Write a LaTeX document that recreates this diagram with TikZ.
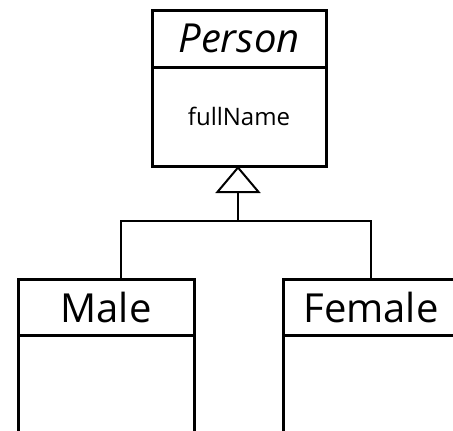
\documentclass[tikz,border=0pt]{standalone}
\usepackage{fontspec}
\setmainfont{Open Sans}
\usetikzlibrary{arrows.meta}

\begin{document}
\begin{tikzpicture}[
		x=1pt, y=-1pt,
		head/.style = {draw, line width=3pt, outer sep=0pt, minimum width=174pt, minimum height=57pt, inner sep=0pt, font=\fontsize{40}{44}\selectfont},
		body/.style = {draw, line width=3pt, outer sep=0pt, minimum width=174pt, inner sep=0pt, font=\fontsize{24}{28}\selectfont},
		link/.style = {line width=2pt}
	]
	\useasboundingbox (0,0) rectangle (453,431);
	\clip (0,0) rectangle (453,431);
	% Person
	\node[head] (person) at (239,38.5) {\itshape Person};
	\node[body, minimum height=99pt] (attrs) at (239,116.5) {fullName};
	% subclasses
	\node[head, minimum width=176pt, minimum height=56pt] (male) at (106,307) {Male};
	\node[body, minimum width=176pt, minimum height=100pt, anchor=north] (maleb) at (male.south) {};
	\node[head, minimum width=176pt, minimum height=56pt] (female) at (371,307) {Female};
	\node[body, minimum width=176pt, minimum height=100pt, anchor=north] (femaleb) at (female.south) {};
	\coordinate (join) at (238,221);
	\coordinate (maletop) at (121,279);
	\draw[link] (maletop) |- (join) -| (female.north);
	\draw[link, -{Triangle[open, length=27pt, width=45pt, line width=2pt]}] (join) -- (attrs.south -| join);
\end{tikzpicture}
\end{document}
